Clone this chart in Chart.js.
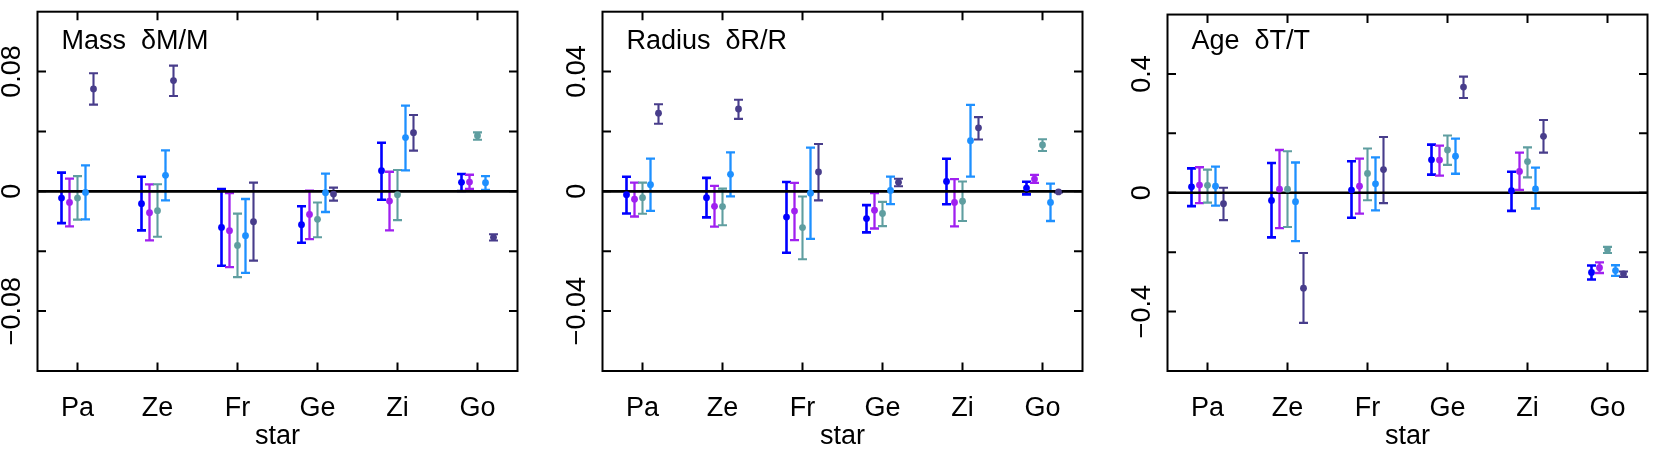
<!DOCTYPE html>
<html>
<head>
<meta charset="utf-8">
<script src="https://cdn.jsdelivr.net/npm/chart.js@4.4.1/dist/chart.umd.min.js"></script>
<style>
  body { margin: 0; background: #fff; width: 1661px; height: 454px; overflow: hidden; }
  canvas { position: absolute; top: 0; }
</style>
</head>
<body>
<canvas id="massChart" width="531" height="454" style="left:0px"></canvas>
<canvas id="radiusChart" width="531" height="454" style="left:565px"></canvas>
<canvas id="ageChart" width="531" height="454" style="left:1130px"></canvas>
<script>
// stars on the x axis, five fits per star (no legend in the original)
const stars = ['Pa', 'Ze', 'Fr', 'Ge', 'Zi', 'Go'];
const seriesColors = ['#0000FF', '#A020F0', '#5F9EA0', '#1E90FF', '#483D8B'];
const seriesWidths = [2.6, 2.3, 2.1, 2.3, 2.1];

// Mass dM/M : rows = series, columns = stars
const massValue = [
    [-0.0045, -0.0082, -0.0241, -0.0223, 0.0138, 0.0060],
    [-0.0074, -0.0143, -0.0263, -0.0154, -0.0065, 0.0062],
    [-0.0045, -0.0129, -0.0361, -0.0187, -0.0022, 0.0372],
    [-0.0007, 0.0107, -0.0296, -0.0009, 0.0359, 0.0058],
    [0.0684, 0.0740, -0.0203, -0.0018, 0.0392, -0.0307]
];
const massLow = [
    [-0.0212, -0.0261, -0.0497, -0.0343, -0.0056, 0.0002],
    [-0.0234, -0.0328, -0.0506, -0.0319, -0.0261, 0.0016],
    [-0.0189, -0.0303, -0.0573, -0.0307, -0.0192, 0.0345],
    [-0.0187, -0.0060, -0.0544, -0.0138, 0.0140, 0.0009],
    [0.0579, 0.0637, -0.0463, -0.0062, 0.0272, -0.0328]
];
const massHigh = [
    [0.0125, 0.0098, 0.0016, -0.0100, 0.0325, 0.0116],
    [0.0085, 0.0047, -0.0011, 0.0004, 0.0131, 0.0111],
    [0.0102, 0.0047, -0.0149, -0.0074, 0.0143, 0.0394],
    [0.0174, 0.0274, -0.0051, 0.0118, 0.0573, 0.0102],
    [0.0789, 0.0840, 0.0058, 0.0025, 0.0510, -0.0287]
];

// Radius dR/R
const radiusValue = [
    [-0.0011, -0.0021, -0.0086, -0.0091, 0.0033, 0.0011],
    [-0.0026, -0.0050, -0.0066, -0.0063, -0.0037, 0.0041],
    [-0.0021, -0.0051, -0.0121, -0.0074, -0.0033, 0.0155],
    [0.0022, 0.0057, -0.0006, 0.0003, 0.0169, -0.0037],
    [0.0261, 0.0275, 0.0065, 0.0030, 0.0212, -0.0002]
];
const radiusLow = [
    [-0.0074, -0.0087, -0.0205, -0.0137, -0.0043, -0.0010],
    [-0.0084, -0.0118, -0.0163, -0.0124, -0.0117, 0.0028],
    [-0.0075, -0.0113, -0.0227, -0.0116, -0.0099, 0.0135],
    [-0.0065, -0.0017, -0.0159, -0.0043, 0.0049, -0.0099],
    [0.0226, 0.0242, -0.0030, 0.0017, 0.0173, -0.0004]
];
const radiusHigh = [
    [0.0049, 0.0045, 0.0031, -0.0046, 0.0109, 0.0032],
    [0.0029, 0.0018, 0.0028, -0.0006, 0.0041, 0.0055],
    [0.0029, 0.0009, -0.0017, -0.0035, 0.0033, 0.0174],
    [0.0109, 0.0130, 0.0146, 0.0049, 0.0289, 0.0026],
    [0.0291, 0.0306, 0.0158, 0.0042, 0.0248, 0.0000]
];

// Age dT/T
const ageValue = [
    [0.020, -0.026, 0.009, 0.111, 0.007, -0.268],
    [0.026, 0.012, 0.022, 0.110, 0.072, -0.252],
    [0.025, 0.012, 0.065, 0.144, 0.105, -0.192],
    [0.022, -0.030, 0.030, 0.123, 0.013, -0.262],
    [-0.037, -0.321, 0.078, 0.356, 0.190, -0.273]
];
const ageLow = [
    [-0.045, -0.150, -0.084, 0.061, -0.061, -0.292],
    [-0.035, -0.119, -0.070, 0.058, 0.010, -0.270],
    [-0.033, -0.115, -0.025, 0.094, 0.052, -0.203],
    [-0.043, -0.163, -0.059, 0.064, -0.053, -0.280],
    [-0.092, -0.438, -0.035, 0.319, 0.135, -0.283]
];
const ageHigh = [
    [0.082, 0.100, 0.106, 0.162, 0.071, -0.245],
    [0.086, 0.144, 0.115, 0.159, 0.135, -0.234],
    [0.078, 0.140, 0.149, 0.193, 0.153, -0.182],
    [0.088, 0.102, 0.119, 0.182, 0.085, -0.244],
    [0.017, -0.203, 0.188, 0.391, 0.245, -0.265]
];

// y axis ticks
const massTicks = [-0.08, -0.04, 0, 0.04, 0.08];
const massTickLabels = ['\u22120.08', '', '0', '', '0.08'];
const radiusTicks = [-0.04, -0.02, 0, 0.02, 0.04];
const radiusTickLabels = ['\u22120.04', '', '0', '', '0.04'];
const ageTicks = [-0.4, -0.2, 0, 0.2, 0.4];
const ageTickLabels = ['\u22120.4', '', '0', '', '0.4'];

const FONT = 'Liberation Sans';
const FONT_SIZE = 27;
const offsets = [-0.2, -0.1, 0, 0.1, 0.2]; // dodge of the five series inside a star

// error bars with flat caps
const errorBars = {
    id: 'errorBars',
    beforeDatasetsDraw(chart) {
        const ctx = chart.ctx;
        const y = chart.scales.y;
        chart.data.datasets.forEach((ds, di) => {
            const meta = chart.getDatasetMeta(di);
            ctx.save();
            ctx.strokeStyle = ds.borderColor;
            ctx.lineWidth = seriesWidths[di];
            ctx.beginPath();
            meta.data.forEach((pt, i) => {
                const top = y.getPixelForValue(ds.data[i].hi);
                const bottom = y.getPixelForValue(ds.data[i].lo);
                ctx.moveTo(pt.x, top); ctx.lineTo(pt.x, bottom);
                ctx.moveTo(pt.x - 4.5, top); ctx.lineTo(pt.x + 4.5, top);
                ctx.moveTo(pt.x - 4.5, bottom); ctx.lineTo(pt.x + 4.5, bottom);
            });
            ctx.stroke();
            ctx.restore();
        });
    }
};

// box, inward ticks, zero line and panel title
const frame = {
    id: 'frame',
    beforeDatasetsDraw(chart) {
        const {ctx, chartArea: a, scales: {y}} = chart;
        const y0 = y.getPixelForValue(0);
        ctx.save();
        ctx.strokeStyle = '#000';
        ctx.lineWidth = 2.6;
        ctx.beginPath();
        ctx.moveTo(a.left, y0); ctx.lineTo(a.right, y0);
        ctx.stroke();
        ctx.restore();
    },
    afterDraw(chart, args, opts) {
        const {ctx, chartArea: a, scales: {x, y}} = chart;
        const tl = 8.5;
        ctx.save();
        ctx.strokeStyle = '#000';
        ctx.lineWidth = 2;
        ctx.strokeRect(a.left, a.top, a.right - a.left, a.bottom - a.top);
        ctx.beginPath();
        x.ticks.forEach(t => {
            const px = x.getPixelForValue(t.value);
            ctx.moveTo(px, a.bottom); ctx.lineTo(px, a.bottom - tl);
            ctx.moveTo(px, a.top); ctx.lineTo(px, a.top + tl);
        });
        y.ticks.forEach(t => {
            const py = y.getPixelForValue(t.value);
            ctx.moveTo(a.left, py); ctx.lineTo(a.left + tl, py);
            ctx.moveTo(a.right, py); ctx.lineTo(a.right - tl, py);
        });
        ctx.stroke();
        ctx.fillStyle = '#000';
        ctx.font = FONT_SIZE + 'px "' + FONT + '"';
        ctx.textAlign = 'left';
        ctx.textBaseline = 'alphabetic';
        ctx.fillText(opts.title, a.left + 24, 49);
        ctx.restore();
    }
};

const measure = document.createElement('canvas').getContext('2d');
measure.font = FONT_SIZE + 'px "' + FONT + '"';

function createPanel(canvasId, title, values, lows, highs, ticks, tickLabels, yMin, yMax) {
    const widest = Math.max(...tickLabels.map(l => measure.measureText(l).width));
    const datasets = values.map((row, s) => ({
        data: row.map((v, i) => ({x: i + 1 + offsets[s], y: v, lo: lows[s][i], hi: highs[s][i]})),
        borderColor: seriesColors[s],
        backgroundColor: seriesColors[s],
        pointRadius: 3.4,
        pointBorderWidth: 0,
        showLine: false
    }));

    return new Chart(document.getElementById(canvasId), {
        type: 'scatter',
        data: {datasets},
        plugins: [errorBars, frame],
        options: {
            responsive: false,
            animation: false,
            events: [],
            layout: {padding: {top: 11.7, right: 13.5, left: 0, bottom: 0}},
            scales: {
                x: {
                    type: 'linear',
                    min: 0.5,
                    max: 6.5,
                    afterBuildTicks: s => { s.ticks = stars.map((_, i) => ({value: i + 1})); },
                    afterFit: s => { s.height = 83; },
                    grid: {display: false, drawTicks: false},
                    border: {display: false},
                    ticks: {
                        callback: v => stars[Math.round(v) - 1],
                        autoSkip: false,
                        maxRotation: 0,
                        padding: 21,
                        color: '#000',
                        font: {family: FONT, size: FONT_SIZE}
                    },
                    title: {
                        display: true,
                        text: 'star',
                        color: '#000',
                        font: {family: FONT, size: FONT_SIZE},
                        padding: {top: 0, bottom: 1}
                    }
                },
                y: {
                    type: 'linear',
                    min: yMin,
                    max: yMax,
                    afterBuildTicks: s => { s.ticks = ticks.map(v => ({value: v})); },
                    afterFit: s => { s.width = 37.5; },
                    grid: {display: false, drawTicks: false},
                    border: {display: false},
                    ticks: {
                        callback: (v, i) => tickLabels[i],
                        autoSkip: false,
                        minRotation: 90,
                        maxRotation: 90,
                        crossAlign: 'center',
                        padding: 25 - widest / 2,
                        color: '#000',
                        font: {family: FONT, size: FONT_SIZE}
                    }
                }
            },
            plugins: {
                legend: {display: false},
                tooltip: {enabled: false},
                frame: {title}
            }
        }
    });
}

createPanel('massChart', 'Mass  \u03B4M/M', massValue, massLow, massHigh, massTicks, massTickLabels, -0.12, 0.12);
createPanel('radiusChart', 'Radius  \u03B4R/R', radiusValue, radiusLow, radiusHigh, radiusTicks, radiusTickLabels, -0.06, 0.06);
createPanel('ageChart', 'Age  \u03B4T/T', ageValue, ageLow, ageHigh, ageTicks, ageTickLabels, -0.6, 0.6);
</script>
</body>
</html>
